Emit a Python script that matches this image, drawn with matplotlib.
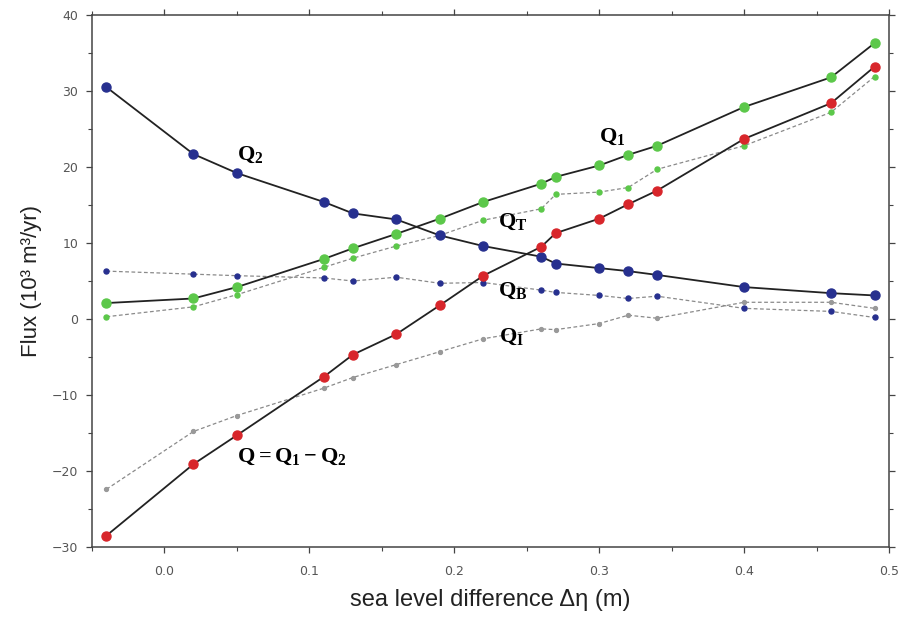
import matplotlib
matplotlib.use("Agg")
import matplotlib.pyplot as plt
from matplotlib.ticker import MultipleLocator

plt.rcParams['mathtext.fontset'] = 'custom'
plt.rcParams['mathtext.rm'] = 'Liberation Serif:bold'
plt.rcParams['mathtext.it'] = 'Liberation Serif:bold'
plt.rcParams['mathtext.bf'] = 'Liberation Serif:bold'

dh = [-0.04, 0.02, 0.05, 0.11, 0.13, 0.16, 0.19, 0.22, 0.26, 0.27, 0.30, 0.32, 0.34, 0.40, 0.46, 0.49]

Q2 = [30.5, 21.7, 19.2, 15.4, 13.9, 13.1, 11.0, 9.6, 8.2, 7.3, 6.7, 6.3, 5.8, 4.2, 3.4, 3.1]
Q1 = [2.1, 2.7, 4.2, 7.9, 9.3, 11.2, 13.2, 15.4, 17.8, 18.7, 20.2, 21.6, 22.8, 27.9, 31.8, 36.3]
Q = [-28.5, -19.1, -15.3, -7.6, -4.7, -2.0, 1.8, 5.7, 9.5, 11.3, 13.2, 15.1, 16.9, 23.7, 28.4, 33.2]
QT = [0.3, 1.6, 3.2, 6.8, 8.0, 9.6, 11.0, 13.0, 14.5, 16.4, 16.7, 17.3, 19.7, 22.8, 27.2, 31.9]
QB = [6.3, 5.9, 5.7, 5.4, 5.0, 5.5, 4.7, 4.8, 3.8, 3.5, 3.1, 2.7, 3.0, 1.4, 1.0, 0.2]
QI = [-22.4, -14.8, -12.7, -9.1, -7.7, -6.0, -4.3, -2.6, -1.3, -1.4, -0.6, 0.5, 0.1, 2.2, 2.2, 1.4]

blue = '#27308f'
green = '#5cc84a'
red = '#d8262b'
gray = '#8a8a8a'

fig = plt.figure(figsize=(9.01, 6.18), dpi=100)
ax = fig.add_axes([0.1021, 0.1149, 0.8846, 0.8608])

dash = dict(color=gray, lw=0.9, ls=(0, (3, 2)), marker='o', ms=3.6)
ax.plot(dh, QI, markerfacecolor='#999999', markeredgecolor='#999999', zorder=2, **{**dash, 'ms': 2.8})
ax.plot(dh, QB, markerfacecolor=blue, markeredgecolor=blue, zorder=2, **dash)
ax.plot(dh, QT, markerfacecolor=green, markeredgecolor=green, zorder=2, **dash)

solid = dict(color='#222222', lw=1.3, ls='-', marker='o', ms=6.5)
ax.plot(dh, Q2, markerfacecolor=blue, markeredgecolor=blue, zorder=3, **solid)
ax.plot(dh, Q1, markerfacecolor=green, markeredgecolor=green, zorder=3, **solid)
ax.plot(dh, Q, markerfacecolor=red, markeredgecolor=red, zorder=3, **solid)

lab = dict(fontsize=16, color='black', ha='left', va='center', zorder=5)
ax.text(0.05, 21.6, r'$\mathrm{Q_2}$', **lab)
ax.text(0.30, 24.0, r'$\mathrm{Q_1}$', **lab)
ax.text(0.23, 12.8, r'$\mathrm{Q_T}$', **lab)
ax.text(0.23, 3.7, r'$\mathrm{Q_B}$', **lab)
ax.text(0.231, -2.4, r'$\mathrm{Q_I}$', **lab)
ax.text(0.05, -18.2, r'$\mathrm{Q = Q_1 - Q_2}$', **lab)

ax.set_xlim(-0.05, 0.5)
ax.set_ylim(-30, 40)
ax.xaxis.set_major_locator(MultipleLocator(0.1))
ax.xaxis.set_minor_locator(MultipleLocator(0.05))
ax.yaxis.set_major_locator(MultipleLocator(10))
ax.yaxis.set_minor_locator(MultipleLocator(5))
ax.set_xticks([0.0, 0.1, 0.2, 0.3, 0.4, 0.5])
ax.set_xticklabels(['0.0', '0.1', '0.2', '0.3', '0.4', '0.5'])

ax.tick_params(which='both', direction='out', top=True, right=True,
               colors='#444444', labelcolor='#555555', labelsize=9)
ax.tick_params(which='major', length=4, width=0.9)
ax.tick_params(which='minor', length=3, width=0.8)
ax.tick_params(axis='x', which='major', pad=9)
ax.tick_params(axis='y', which='major', pad=6)
for s in ax.spines.values():
    s.set_color('#444444')
    s.set_linewidth(1.1)

ax.set_xlabel('sea level difference Δη (m)', fontsize=17, family='Liberation Sans',
              color='#222222', labelpad=8)
ax.set_ylabel('Flux (10³ m³/yr)', fontsize=16, family='Liberation Sans',
              color='#222222', labelpad=7)

fig.savefig('out.png', dpi=100)
